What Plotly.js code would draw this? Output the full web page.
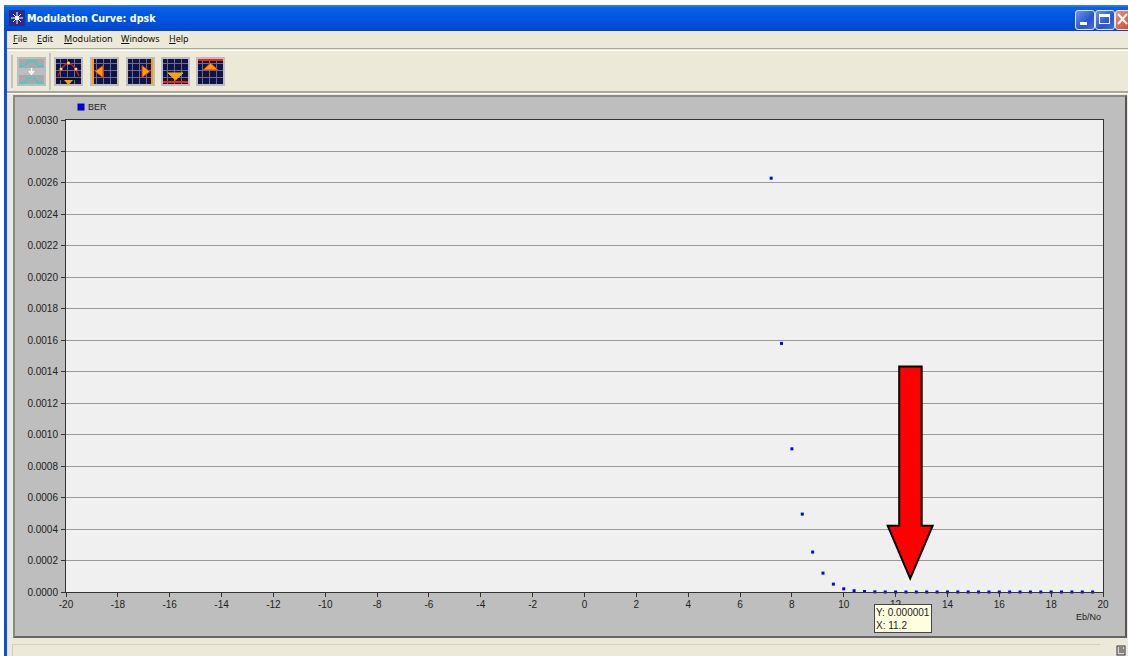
<!DOCTYPE html>
<html>
<head>
<meta charset="utf-8">
<script src="https://cdn.plot.ly/plotly-3.0.1.min.js"></script>
<style>
html,body{margin:0;padding:0;width:1128px;height:656px;overflow:hidden;background:#fff}
.a{position:absolute;box-sizing:border-box}
#plot{position:absolute;left:0;top:0;width:1128px;height:656px}
.menu{position:absolute;top:32px;font:9px "Noto Sans",sans-serif;color:#111;white-space:nowrap}
.menu u{text-decoration:underline}
.btn{position:absolute;top:10px;width:18px;height:18px;border:1px solid #dfe8ff;border-radius:3px;background:linear-gradient(135deg,#6f93ea,#2a55cf 60%,#3f6fe0)}
.ico{position:absolute;top:57px;width:29px;height:29px}
</style>
</head>
<body>
<div class="a" style="left:4px;top:5px;width:1124px;height:651px;background:#ece9d8"></div>
<div class="a" style="left:4px;top:5px;width:3px;height:651px;background:#0a50e0"></div>
<div class="a" style="left:4px;top:5px;width:1124px;height:26px;background:linear-gradient(#2f84f4 0,#0a62e8 10%,#0058e0 35%,#0050da 70%,#0046c8 100%)"></div>
<svg class="a" style="left:9px;top:10px" width="16" height="16"><rect width="16" height="16" fill="#2a2a8c"/><path d="M8 2v12M2 8h12M4 4l8 8M12 4l-8 8" stroke="#fff" stroke-width="1"/><circle cx="8" cy="8" r="2" fill="#fff"/></svg>
<div class="a" style="left:27px;top:13px;font:bold 9.6px 'DejaVu Sans',sans-serif;color:#fff;white-space:nowrap">Modulation Curve: dpsk</div>
<div class="btn" style="left:1075px"><div class="a" style="left:4px;top:11px;width:7px;height:3px;background:#fff"></div></div>
<div class="btn" style="left:1095px"><div class="a" style="left:3px;top:3px;width:11px;height:10px;border:1px solid #fff;border-top:3px solid #fff"></div></div>
<div class="btn" style="left:1115px;width:14px;background:linear-gradient(135deg,#e8917a,#d4472a)"><svg width="12" height="16"><path d="M2 3l9 10M11 3l-9 10" stroke="#fff" stroke-width="2"/></svg></div>
<div class="menu" style="left:13px"><u>F</u>ile</div>
<div class="menu" style="left:37px"><u>E</u>dit</div>
<div class="menu" style="left:64px"><u>M</u>odulation</div>
<div class="menu" style="left:121px"><u>W</u>indows</div>
<div class="menu" style="left:169px"><u>H</u>elp</div>
<div class="a" style="left:7px;top:48px;width:1121px;height:1px;background:#aca899"></div>
<div class="a" style="left:7px;top:50px;width:1121px;height:1px;background:#fff"></div>
<div class="a" style="left:11px;top:55px;width:2px;height:33px;background:#c8c5b4"></div>
<div class="a" style="left:49px;top:53px;width:2px;height:37px;background:#c8c5b4"></div>
<div class="a" style="left:7px;top:91px;width:1121px;height:2px;background:#aca899"></div>
<div class="a" style="left:7px;top:93px;width:1121px;height:1px;background:#fff"></div>

<svg class="ico" style="left:17px" viewBox="0 0 29 29"><rect width="29" height="29" fill="#bdbdbd"/><rect x="2" y="2" width="25" height="9" fill="#a9a9a9"/><rect x="2" y="18" width="25" height="9" fill="#a9a9a9"/><path d="M2 9h6l3-5h7l3 5h6M2 26h6l3-5h7l3 5h6" fill="none" stroke="#26d4dc" stroke-width="1.3"/><path d="M14.500 11v4M12 14l2.500 3 2.500-3" stroke="#fff" stroke-width="1.500" fill="none"/></svg>
<svg class="ico" style="left:54px" viewBox="0 0 29 29"><defs><pattern id="g" width="7" height="7" patternUnits="userSpaceOnUse"><rect width="7" height="7" fill="#10124a"/><path d="M6.500 0v7M0 6.500h7" stroke="#6c6c8a" stroke-width="1"/></pattern></defs><rect width="29" height="29" fill="#bdbdbd"/><rect x="2" y="2" width="25" height="25" fill="url(#g)"/><path d="M4 19Q14.500-6 25 19" fill="none" stroke="#d81818" stroke-width="1.300"/><circle cx="7" cy="12" r="1.500" fill="#ffe060"/><circle cx="14.500" cy="6" r="1.500" fill="#ffe060"/><circle cx="22" cy="12" r="1.500" fill="#ffe060"/><rect x="2" y="21" width="25" height="2" fill="#111"/><path d="M10 23h9l-4.500 5z" fill="#ffa000"/></svg>
<svg class="ico" style="left:90px" viewBox="0 0 29 29"><rect width="29" height="29" fill="#bdbdbd"/><rect x="2" y="2" width="25" height="25" fill="url(#g)"/><rect x="2" y="2" width="2" height="25" fill="#ff9c00"/><path d="M5 14.500l8-6v12z" fill="#ffa000" stroke="#e03010"/></svg>
<svg class="ico" style="left:126px" viewBox="0 0 29 29"><rect width="29" height="29" fill="#bdbdbd"/><rect x="2" y="2" width="25" height="25" fill="url(#g)"/><rect x="25" y="2" width="2" height="25" fill="#ff9c00"/><path d="M24 14.500l-8-6v12z" fill="#ffa000" stroke="#e03010"/></svg>
<svg class="ico" style="left:161px" viewBox="0 0 29 29"><rect width="29" height="29" fill="#bdbdbd"/><rect x="2" y="2" width="25" height="25" fill="url(#g)"/><rect x="2" y="24" width="25" height="2" fill="#ff2000"/><path d="M7 16h15l-7.500 7z" fill="#ffa000" stroke="#e8c000"/></svg>
<svg class="ico" style="left:196px" viewBox="0 0 29 29"><rect width="29" height="29" fill="#bdbdbd"/><rect x="2" y="2" width="25" height="25" fill="url(#g)"/><rect x="2" y="2" width="25" height="2" fill="#ff2000"/><path d="M7 13h15l-7.500-7z" fill="#ffa000" stroke="#e03010"/></svg>

<div class="a" style="left:13px;top:95px;width:1114px;height:543px;background:#bebebe;border:2px solid;border-color:#8a8a80 #555 #666 #8a8a80"></div>
<div class="a" style="left:12px;top:644px;width:1088px;height:12px;background:#ece9d8;border-top:1px solid #d4d0c0;border-left:1px solid #d4d0c0"></div>
<svg class="a" style="left:1116px;top:645px" width="12" height="11"><rect x="1" y="1" width="8" height="9" fill="#d8d8d0" stroke="#333"/><path d="M3 3h4M3 5h5M3 7h5" stroke="#333"/></svg>
<div id="plot"></div>
<script>
var categories = [7.2,7.6,8.0,8.4,8.8,9.2,9.6,10.0,10.4,10.8,11.2,11.6,12.0,12.4,12.8,13.2,13.6,14.0,14.4,14.8,15.2,15.6,16.0,16.4,16.8,17.2,17.6,18.0,18.4,18.8,19.2,19.6];
var berValues = [0.00263,0.00158,0.00091,0.000495,0.000254,0.00012,0.00005,0.00002,0.000008,0.000003,0.000001,0,0,0,0,0,0,0,0,0,0,0,0,0,0,0,0,0,0,0,0,0];
var xTicks = [-20,-18,-16,-14,-12,-10,-8,-6,-4,-2,0,2,4,6,8,10,12,14,16,18,20];
var yTicks = [0,0.0002,0.0004,0.0006,0.0008,0.0010,0.0012,0.0014,0.0016,0.0018,0.0020,0.0022,0.0024,0.0026,0.0028,0.0030];
var seriesName = 'BER';
var xTitle = 'Eb/No';
var tooltipText = 'Y: 0.000001<br>X: 11.2';

var W = 1128, H = 656;
var fnt = {family:'"Liberation Sans",Arial,sans-serif', size:10, color:'#222'};
var L = 65.5, R = 1103.5, T = 119.5, B = 592.5;
function px(x){ return (x - L) / (R - L); }
function py(y){ return 1 - (y - T) / (B - T); }

var arrow = [[899.5,366.5],[922,366.5],[922,526],[933,526],[910.5,579],[888,526],[899.5,526]];
var arrowPath = 'M' + arrow.map(function(p){ return px(p[0]) + ',' + py(p[1]); }).join('L') + 'Z';

Plotly.newPlot('plot', [{
  type:'scatter', mode:'markers', name:seriesName, x:categories, y:berValues,
  marker:{symbol:'square', size:3, color:'#0000ff'}, cliponaxis:false, hoverinfo:'skip'
}], {
  width:W, height:H, showlegend:false,
  paper_bgcolor:'rgba(0,0,0,0)', plot_bgcolor:'#f0f0f0',
  margin:{l:L, r:W-R, t:T, b:H-B, pad:0},
  font:fnt,
  xaxis:{range:[-20,20], tickvals:xTicks, ticktext:xTicks.map(String), showgrid:false, zeroline:false,
    showline:true, mirror:true, linecolor:'#333', linewidth:1, ticks:'outside', ticklen:4, tickcolor:'#333', tickfont:fnt, ticklabelstandoff:-1},
  yaxis:{range:[0,0.003], tickvals:yTicks, ticktext:yTicks.map(function(v){return v.toFixed(4);}), showgrid:true, gridcolor:'#999', gridwidth:1,
    zeroline:false, showline:true, mirror:true, linecolor:'#333', linewidth:1, ticks:'outside', ticklen:4, tickcolor:'#333', tickfont:fnt, ticklabelstandoff:1},
  shapes:[
    {type:'rect', xref:'paper', yref:'paper', x0:px(77), x1:px(84), y0:py(110), y1:py(103), fillcolor:'#0000d0', line:{width:0}},
    {type:'path', xref:'paper', yref:'paper', path:arrowPath, fillcolor:'#ff0000', line:{color:'#000', width:2}, layer:'above'}
  ],
  annotations:[
    {xref:'paper', yref:'paper', x:px(85.5), y:py(106.5), xanchor:'left', yanchor:'middle', text:seriesName, showarrow:false, font:{family:fnt.family,size:9,color:'#222'}},
    {xref:'paper', yref:'paper', x:px(1103), y:py(618), xanchor:'right', yanchor:'middle', text:xTitle, showarrow:false, font:{family:fnt.family,size:9,color:'#222'}},
    {xref:'paper', yref:'paper', x:px(874), y:py(605), xanchor:'left', yanchor:'top', width:54, height:25, text:tooltipText, align:'left', showarrow:false,
      bgcolor:'#ffffe1', bordercolor:'#444', borderwidth:1, borderpad:1, font:{family:fnt.family,size:10,color:'#222'}}
  ]
}, {displayModeBar:false, staticPlot:true});
</script>
</body>
</html>
